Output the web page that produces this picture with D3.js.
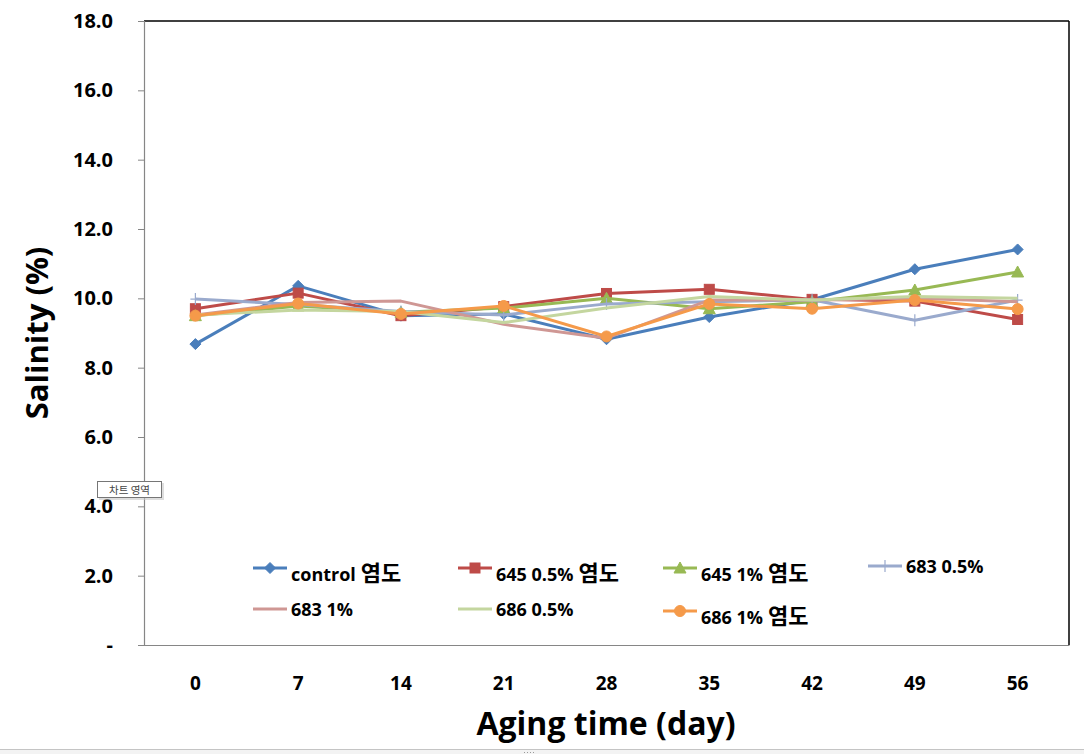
<!DOCTYPE html>
<html>
<head>
<meta charset="utf-8">
<script src="https://cdn.jsdelivr.net/npm/d3@7"></script>
<style>
  body { margin: 0; background: #fff; }
  svg { display: block; }
  text { font-family: "Open Sans", "Noto Sans CJK KR", sans-serif; font-weight: bold; }
</style>
</head>
<body>
<script>
// ---- data ----
const days = ["0", "7", "14", "21", "28", "35", "42", "49", "56"];
const seriesNames = ["control 염도", "645 0.5% 염도", "645 1% 염도", "683 0.5%", "683 1%", "686 0.5%", "686 1% 염도"];
const control    = [8.68, 10.36, 9.50, 9.55, 8.82, 9.46, 9.96, 10.84, 11.41];
const s645_05    = [9.70, 10.15, 9.50, 9.76, 10.14, 10.26, 9.97, 9.92, 9.39];
const s645_1     = [9.50, 9.78, 9.60, 9.72, 10.00, 9.70, 9.90, 10.24, 10.76];
const s683_05    = [9.98, 9.82, 9.62, 9.52, 9.84, 9.90, 9.96, 9.37, 9.95];
const s683_1     = [9.52, 9.88, 9.92, 9.25, 8.85, 9.95, 9.95, 10.00, 9.90];
const s686_05    = [9.52, 9.66, 9.62, 9.30, 9.72, 10.05, 9.95, 10.05, 10.00];
const s686_1     = [9.50, 9.85, 9.55, 9.78, 8.90, 9.84, 9.70, 9.95, 9.69];
const yTicks = [0, 2, 4, 6, 8, 10, 12, 14, 16, 18];

const seriesValues = [control, s645_05, s645_1, s683_05, s683_1, s686_05, s686_1];
const colors = ["#4A7EBB", "#BE4B48", "#98B954", "#9AAACD", "#CF9794", "#C4D69F", "#F59A4A"];
const markers = ["diamond", "square", "triangle", "plus", "none", "none", "circle"];

const W = 1084, H = 754;
const L = 144, T = 21, R = 1069, B = 645;

const svg = d3.select("body").append("svg").attr("width", W).attr("height", H);

const x = d3.scaleBand().domain(days).range([L, R]).paddingInner(0).paddingOuter(0);
const y = d3.scaleLinear().domain([0, 18]).range([B, T]);

// plot border (top/right black)
svg.append("line").attr("x1", L).attr("x2", R).attr("y1", T).attr("y2", T).attr("stroke", "#000").attr("stroke-width", 1.5);
svg.append("line").attr("x1", R).attr("x2", R).attr("y1", T).attr("y2", B).attr("stroke", "#000").attr("stroke-width", 1.5);

// y axis
const yAxis = d3.axisLeft(y).tickValues(yTicks).tickSize(6).tickPadding(25)
  .tickFormat(d => d === 0 ? "-" : d3.format(".1f")(d));
const gy = svg.append("g").attr("transform", `translate(${L},0)`).call(yAxis);
gy.select(".domain").attr("stroke", "#868686").attr("stroke-width", 1.2);
gy.selectAll(".tick line").attr("stroke", "#868686");
gy.selectAll(".tick text").attr("font-size", 20).attr("fill", "#000")
  .style("font-family", "'Open Sans', sans-serif").style("font-weight", "bold");

// x axis
const xAxis = d3.axisBottom(x).tickSize(0).tickPadding(32);
const gx = svg.append("g").attr("transform", `translate(0,${B})`).call(xAxis);
gx.select(".domain").attr("stroke", "#868686").attr("stroke-width", 1.2);
gx.selectAll(".tick text").attr("font-size", 19).attr("fill", "#000")
  .style("font-family", "'Open Sans', sans-serif").style("font-weight", "bold");

// axis titles
svg.append("text").attr("transform", `translate(48,${333}) rotate(-90)`)
  .attr("text-anchor", "middle").attr("font-size", 31).attr("fill", "#000").text("Salinity (%)");
svg.append("text").attr("x", 606).attr("y", 735)
  .attr("text-anchor", "middle").attr("font-size", 32).attr("fill", "#000").text("Aging time (day)");

// marker drawing
function drawMarker(g, type, color) {
  const s = 5;
  if (type === "diamond") {
    g.append("path").attr("d", `M0,${-s-0.5}L${s+0.5},0L0,${s+0.5}L${-s-0.5},0Z`).attr("fill", color).attr("stroke", color);
  } else if (type === "square") {
    g.append("rect").attr("x", -s).attr("y", -s).attr("width", 2*s).attr("height", 2*s).attr("fill", color).attr("stroke", color);
  } else if (type === "triangle") {
    g.append("path").attr("d", `M0,${-s-1}L${s+1},${s}L${-s-1},${s}Z`).attr("fill", color).attr("stroke", color);
  } else if (type === "circle") {
    g.append("circle").attr("r", s + 0.5).attr("fill", color).attr("stroke", color);
  } else if (type === "plus") {
    g.append("path").attr("d", `M${-s},0H${s}M0,${-s-1}V${s+1}`).attr("stroke", color).attr("stroke-width", 1.2).attr("fill", "none");
  }
}

const line = d3.line().x((d, i) => x(days[i]) + x.bandwidth() / 2).y(d => y(d));

seriesValues.forEach((vals, si) => {
  const g = svg.append("g");
  g.append("path").datum(vals).attr("d", line).attr("fill", "none")
    .attr("stroke", colors[si]).attr("stroke-width", 3).attr("stroke-linejoin", "round");
  vals.forEach((v, i) => {
    const mg = g.append("g").attr("transform", `translate(${x(days[i]) + x.bandwidth() / 2},${y(v)})`);
    drawMarker(mg, markers[si], colors[si]);
  });
});

// legend
const legendPos = [
  [253, 568, 574], [458, 568, 574], [663, 568, 574], [868, 566, 566],
  [253, 609, 609], [458, 609, 609], [663, 611, 617]
];
seriesNames.forEach((name, si) => {
  const [lx, ly, ty] = legendPos[si];
  const g = svg.append("g");
  g.append("line").attr("x1", lx).attr("x2", lx + 34).attr("y1", ly).attr("y2", ly)
    .attr("stroke", colors[si]).attr("stroke-width", 3);
  const mg = g.append("g").attr("transform", `translate(${lx + 17},${ly})`);
  drawMarker(mg, markers[si], colors[si]);
  const t = g.append("text").attr("x", lx + 38).attr("y", ty + 6.5)
    .attr("font-size", 18).attr("fill", "#000");
  const parts = name.split(/(\s*염도)/).filter(p => p.length);
  parts.forEach(p => {
    const ts = t.append("tspan").text(p);
    if (/염도/.test(p)) ts.attr("font-size", 22).style("font-family", "'Noto Sans CJK KR', sans-serif");
  });
});

// tooltip "차트 영역"
const tip = svg.append("g");
tip.append("rect").attr("x", 99).attr("y", 483).attr("width", 65).attr("height", 17).attr("fill", "#c8c8c8").attr("opacity", 0.6);
tip.append("rect").attr("x", 97.5).attr("y", 481.5).attr("width", 64).attr("height", 16).attr("fill", "#fff").attr("stroke", "#767676");
tip.append("text").attr("x", 129.5).attr("y", 490).attr("dy", "0.35em").attr("text-anchor", "middle")
  .attr("font-size", 10.5).style("font-weight", "normal").style("font-family", "'Noto Sans CJK KR', sans-serif")
  .attr("fill", "#444").text("차트 영역");

// bottom window strip
svg.append("rect").attr("x", 0).attr("y", 749).attr("width", W).attr("height", 5).attr("fill", "#f3f3f3");
svg.append("line").attr("x1", 0).attr("x2", W).attr("y1", 749.5).attr("y2", 749.5).attr("stroke", "#c4c4c4");
[524, 527, 530, 533].forEach(dx => svg.append("rect").attr("x", dx).attr("y", 752).attr("width", 1).attr("height", 1).attr("fill", "#999"));
</script>
</body>
</html>
